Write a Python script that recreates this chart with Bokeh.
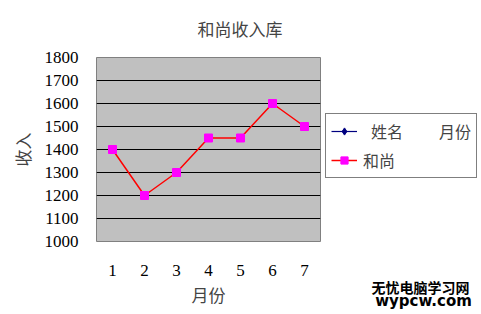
from bokeh.plotting import figure
from bokeh.layouts import row
from bokeh.models import Legend, LegendItem, Title, Label, FixedTicker, ColumnDataSource
from bokeh.embed import file_html
from bokeh.resources import INLINE

months = [1, 2, 3, 4, 5, 6, 7]
income = [1400, 1200, 1300, 1450, 1450, 1600, 1500]
y_ticks = [1000, 1100, 1200, 1300, 1400, 1500, 1600, 1700, 1800]
title_text = "和尚收入库"
x_label = "月份"
y_label = "收入"
legend_labels = ["  姓名         月份", "和尚"]
watermark = ["无忧电脑学习网", "wypcw.com"]

SERIF = "'Liberation Serif', 'Noto Sans CJK SC', serif"
nan = float("nan")

# main chart
p = figure(frame_width=224, frame_height=184, output_backend="svg", toolbar_location=None,
           x_range=(0.5, 7.5), y_range=(1000, 1800),
           min_border_left=96, min_border_right=1, min_border_top=56, min_border_bottom=74)
p.background_fill_color = "#C0C0C0"
p.border_fill_color = "white"
p.outline_line_color = "#808080"
p.outline_line_width = 1

p.xgrid.grid_line_color = None
p.ygrid.grid_line_color = "black"
p.ygrid.grid_line_width = 1
p.ygrid.ticker = FixedTicker(ticks=y_ticks)

for ax in (p.xaxis, p.yaxis):
    ax.axis_line_color = None
    ax.major_tick_line_color = None
    ax.minor_tick_line_color = None
    ax.major_label_text_font = SERIF
    ax.major_label_text_font_size = "17px"
    ax.major_label_text_color = "black"
    ax.axis_label_text_font = SERIF
    ax.axis_label_text_font_size = "17px"
    ax.axis_label_text_font_style = "normal"

p.xaxis.ticker = FixedTicker(ticks=months)
p.yaxis.ticker = FixedTicker(ticks=y_ticks)
p.xaxis.major_label_standoff = 17
p.yaxis.major_label_standoff = 12
p.xaxis.axis_label = x_label
p.yaxis.axis_label = y_label
p.xaxis.axis_label_standoff = 8
p.yaxis.axis_label_standoff = 8

src = ColumnDataSource(dict(x=months, y=income))
p.line("x", "y", source=src, line_color="#FF0000", line_width=1.5)
p.scatter("x", "y", source=src, marker="square", size=8,
          fill_color="#FF00FF", line_color="#FF00FF")

p.title = Title(text=title_text, align="left", offset=101, standoff=36,
                text_font=SERIF, text_font_size="17px", text_font_style="normal")

# side panel: legend and watermark (frame aligned with main frame, 160 x 184 px)
s = figure(width=160, height=314, output_backend="svg", toolbar_location=None,
           x_range=(0, 160), y_range=(0, 314),
           x_axis_location=None, y_axis_location=None,
           min_border_left=0, min_border_right=0, min_border_top=0, min_border_bottom=0)
s.background_fill_color = "white"
s.border_fill_color = "white"
s.outline_line_color = None
s.grid.visible = False

empty = ColumnDataSource(dict(x=[nan], y=[nan]))
e_ln = s.line("x", "y", source=empty, line_color="#000080", line_width=1.2)
e_mk = s.scatter("x", "y", source=empty, marker="diamond", size=6,
                 fill_color="#000080", line_color="#000080")
h_ln = s.line("x", "y", source=empty, line_color="#FF0000", line_width=1.5)
h_mk = s.scatter("x", "y", source=empty, marker="square", size=8,
                 fill_color="#FF00FF", line_color="#FF00FF")

legend = Legend(items=[LegendItem(label=legend_labels[0], renderers=[e_ln, e_mk]),
                       LegendItem(label=legend_labels[1], renderers=[h_ln, h_mk])],
                location=(4, 62), orientation="vertical",
                border_line_color="black", border_line_width=1,
                background_fill_color="white", background_fill_alpha=1,
                label_text_font=SERIF, label_text_font_size="16px",
                label_height=18, glyph_width=26, glyph_height=18, label_standoff=6,
                padding=5, spacing=5, margin=0)
s.add_layout(legend, "center")

wm1 = Label(x=99, y=-80, text=watermark[0], text_align="center", text_baseline="middle",
            text_font="'Noto Sans CJK SC', sans-serif", text_font_size="14px",
            text_font_style="bold", text_color="black")
wm2 = Label(x=102, y=-103, text=watermark[1], text_align="center", text_baseline="middle",
            text_font="'DejaVu Sans', sans-serif", text_font_size="15px",
            text_font_style="bold", text_color="black")
s.add_layout(wm1, "below")
s.add_layout(wm2, "below")

layout = row(p, s)
open("out.html", "w").write(file_html(layout, INLINE))
